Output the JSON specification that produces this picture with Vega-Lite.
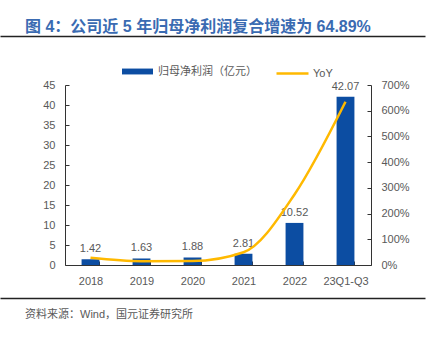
{
  "$schema": "https://vega.github.io/schema/vega-lite/v6.json",
  "background": "white",
  "padding": {"left": 0, "top": 19, "right": 0, "bottom": 0},
  "config": {"view": {"stroke": null}, "font": "Liberation Sans"},
  "spacing": 20,
  "vconcat": [
    {
      "width": 306,
      "height": 1,
      "title": {"text": "图 4：公司近 5 年归母净利润复合增速为 64.89%", "anchor": "start", "frame": "group", "dx": -40, "fontSize": 16, "fontWeight": "bold", "color": "#3A6BB2", "font": "Liberation Sans, Noto Sans CJK SC", "offset": 0},
      "data": {"values": []},
      "mark": "point",
      "encoding": {
        "x": {"field": "v", "type": "quantitative", "scale": {"domain": [0, 1], "range": [-65, 360]},
          "axis": {"orient": "bottom", "title": null, "labels": false, "ticks": false, "grid": false, "domainColor": "#222222", "domainWidth": 1.5}}
      }
    },
    {
      "spacing": 12,
      "vconcat": [
        {
          "width": 306,
          "height": 180,
          "data": {
            "values": [
              {"cat": "2018", "profit": 1.42, "yoy": 0.28},
              {"cat": "2019", "profit": 1.63, "yoy": 0.148},
              {"cat": "2020", "profit": 1.88, "yoy": 0.153},
              {"cat": "2021", "profit": 2.81, "yoy": 0.495},
              {"cat": "2022", "profit": 10.52, "yoy": 2.744},
              {"cat": "23Q1-Q3", "profit": 42.07, "yoy": 6.35}
            ]
          },
          "encoding": {
            "x": {
              "field": "cat", "type": "nominal", "sort": null,
              "scale": {"paddingInner": 0.65, "paddingOuter": 0.325},
              "axis": {"title": null, "labelAngle": 0, "domainColor": "#333333", "tickColor": "#333333", "tickBand": "extent", "tickSize": -4, "labelPadding": 14, "labelColor": "#595959", "labelFontSize": 11, "labelFont": "Liberation Sans"}
            }
          },
          "layer": [
            {
              "encoding": {
                "y": {
                  "field": "profit", "type": "quantitative",
                  "scale": {"domain": [0, 45]},
                  "axis": {"values": [0, 5, 10, 15, 20, 25, 30, 35, 40, 45], "grid": false, "domainColor": "#333333", "tickColor": "#333333", "tickSize": -4, "labelPadding": 14, "labelColor": "#595959", "labelFontSize": 11, "labelFont": "Liberation Sans", "title": "0", "titleOpacity": 0, "titleFontSize": 11, "minExtent": 50, "titlePadding": 4}
                }
              },
              "layer": [
                {
                  "mark": {"type": "bar"},
                  "encoding": {
                    "fill": {"datum": "归母净利润（亿元）", "type": "nominal", "scale": {"range": ["#0C4DA2"]},
                      "legend": {"title": null, "orient": "none", "legendX": 57, "legendY": -29, "symbolType": "M-1,-0.19L1,-0.19L1,0.19L-1,0.19Z", "symbolSize": 961, "symbolStrokeWidth": 0, "labelFontSize": 11, "labelColor": "#595959", "labelFont": "Noto Sans CJK SC", "labelOffset": 5, "padding": 0}}
                  }
                },
                {
                  "mark": {"type": "text", "baseline": "bottom", "dy": -5, "fontSize": 11, "color": "#595959", "font": "Liberation Sans"},
                  "encoding": {"text": {"field": "profit", "type": "quantitative", "format": ".2f"}}
                }
              ]
            },
            {
              "mark": {"type": "line", "interpolate": "monotone", "strokeWidth": 2.5},
              "encoding": {
                "y": {
                  "field": "yoy", "type": "quantitative",
                  "scale": {"domain": [0, 7]},
                  "axis": {"orient": "right", "values": [0, 1, 2, 3, 4, 5, 6, 7], "format": ".0%", "grid": false, "domainColor": "#333333", "tickColor": "#333333", "tickSize": -4, "labelPadding": 14, "labelColor": "#595959", "labelFontSize": 11, "labelFont": "Liberation Sans", "title": null}
                },
                "stroke": {"datum": "YoY", "type": "nominal", "scale": {"range": ["#FFB900"]},
                  "legend": {"title": null, "orient": "none", "legendX": 210, "legendY": -29, "symbolType": "stroke", "symbolSize": 1024, "symbolStrokeWidth": 2.5, "labelFontSize": 11, "labelColor": "#595959", "labelFont": "Liberation Sans", "labelOffset": 3, "padding": 0}}
              }
            }
          ],
          "resolve": {"scale": {"y": "independent", "fill": "independent", "stroke": "independent"}}
        },
        {
          "width": 306,
          "height": 1,
          "title": {"text": "资料来源：Wind，国元证券研究所", "orient": "bottom", "anchor": "start", "frame": "group", "dx": -40, "fontSize": 11, "fontWeight": "normal", "color": "#595959", "font": "Liberation Sans, Noto Sans CJK SC", "offset": 10},
          "data": {"values": []},
          "mark": "point",
          "encoding": {
            "x": {"field": "v", "type": "quantitative", "scale": {"domain": [0, 1], "range": [-65, 360]},
              "axis": {"orient": "top", "title": null, "labels": false, "ticks": false, "grid": false, "domainColor": "#222222", "domainWidth": 1.5}}
          }
        }
      ]
    }
  ]
}
